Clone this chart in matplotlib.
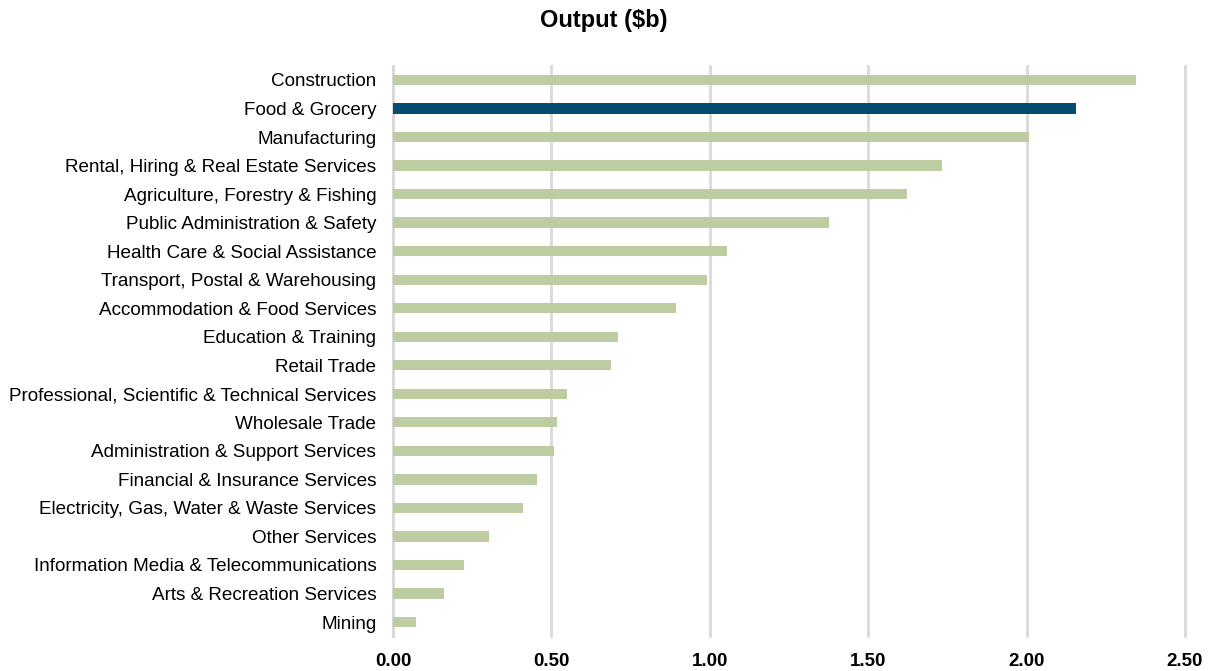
"""Output by industry, horizontal bar chart."""

import matplotlib.pyplot as plt
import numpy as np

industries = [
    "Construction",
    "Food & Grocery",
    "Manufacturing",
    "Rental, Hiring & Real Estate Services",
    "Agriculture, Forestry & Fishing",
    "Public Administration & Safety",
    "Health Care & Social Assistance",
    "Transport, Postal & Warehousing",
    "Accommodation & Food Services",
    "Education & Training",
    "Retail Trade",
    "Professional, Scientific & Technical Services",
    "Wholesale Trade",
    "Administration & Support Services",
    "Financial & Insurance Services",
    "Electricity, Gas, Water & Waste Services",
    "Other Services",
    "Information Media & Telecommunications",
    "Arts & Recreation Services",
    "Mining",
]
output_bn = [
    2.344, 2.155, 2.008, 1.734, 1.622, 1.376, 1.054, 0.990, 0.893, 0.711,
    0.687, 0.550, 0.518, 0.508, 0.456, 0.409, 0.303, 0.225, 0.160, 0.073,
]
highlight = "Food & Grocery"
x_ticks = [0.0, 0.5, 1.0, 1.5, 2.0, 2.5]

plt.rcParams["font.family"] = ["Liberation Sans", "DejaVu Sans"]

GREEN = "#BDCDA1"
BLUE = "#054C72"
colors = [BLUE if name == highlight else GREEN for name in industries]

fig = plt.figure(figsize=(12.13, 6.71), dpi=100)
ax = fig.add_axes([393 / 1213, 1 - 636.3 / 671, (1185 - 393) / 1213, (636.3 - 65.7) / 671])

y = np.arange(len(industries))
ax.barh(y, output_bn, height=0.36, color=colors, zorder=3)

ax.set_ylim(len(industries) - 0.5, -0.5)
ax.set_xlim(0, 2.5)
ax.set_xticks(x_ticks)
ax.set_xticklabels([f"{v:.2f}" for v in x_ticks], fontweight="bold", fontsize=13.5)
ax.set_yticks(y)
ax.set_yticklabels(industries, fontsize=13.55)
ax.tick_params(axis="both", length=0)
ax.tick_params(axis="x", pad=12)
ax.tick_params(axis="y", pad=12)

ax.grid(axis="x", color="#D9D9D9", linewidth=2, zorder=0)
for gl in ax.get_xgridlines():
    gl.set_clip_on(False)
for side in ["top", "right", "bottom"]:
    ax.spines[side].set_visible(False)
ax.spines["left"].set_color("#D9D9D9")
ax.spines["left"].set_linewidth(2)

fig.text(604 / 1213, 1 - 21 / 671, "Output ($b)", ha="center", va="center",
         fontsize=17, fontweight="bold")

fig.savefig("out.png", dpi=100)
